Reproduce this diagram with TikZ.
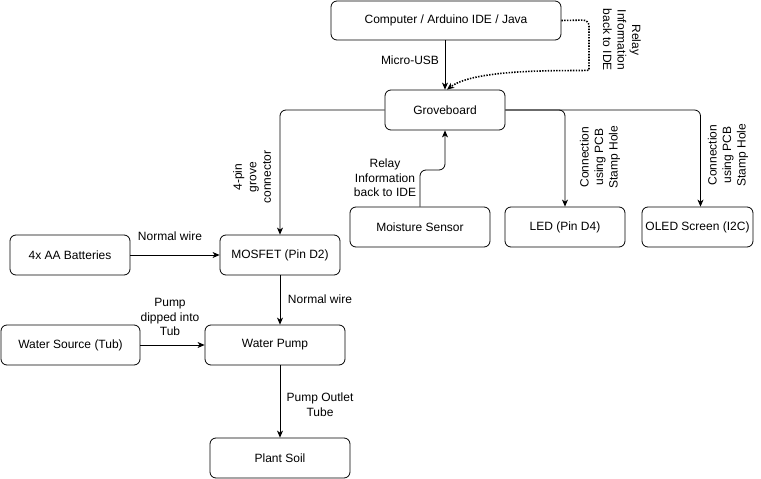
\documentclass[tikz,border=0pt]{standalone}
\usepackage{fontspec}
\setmainfont{Liberation Sans}
\usetikzlibrary{arrows.meta}
\begin{document}
\begin{tikzpicture}[x=1pt,y=-1pt,
  box/.style={draw,rounded corners=6pt,line width=0.8pt,inner sep=0pt,
    font=\fontsize{12}{14}\selectfont},
  lbl/.style={align=center,inner sep=0pt,font=\fontsize{12}{14.5}\selectfont},
  arr/.style={line width=0.8pt,rounded corners=6pt,
    -{Stealth[length=7pt,width=6pt,inset=2pt]}},
  dotline/.style={line width=1.6pt,dash pattern=on 1.4pt off 1.4pt,rounded corners=6pt,
    -{Stealth[length=7pt,width=6pt,inset=2pt]}}]
\useasboundingbox (0,0) rectangle (761,479);
% nodes
\node[box,minimum width=230pt,minimum height=39pt] (comp) at (446,20.5) {Computer / Arduino IDE / Java};
\node[box,minimum width=120pt,minimum height=40pt] (grove) at (445,110) {Groveboard};
\node[box,minimum width=140pt,minimum height=40pt] (moist) at (420,227) {Moisture Sensor};
\node[box,minimum width=120pt,minimum height=40pt] (led) at (565,227) {LED (Pin D4)};
\node[box,minimum width=111pt,minimum height=40pt] (oled) at (697.5,227) {OLED Screen (I2C)};
\node[box,minimum width=120pt,minimum height=40pt] (mosfet) at (280,255) {MOSFET (Pin D2)};
\node[box,minimum width=120pt,minimum height=40pt] (batt) at (70,255) {4x AA Batteries};
\node[box,minimum width=140pt,minimum height=40pt] (pump) at (275,345) {Water Pump};
\node[box,minimum width=139pt,minimum height=40pt] (source) at (70.5,345) {Water Source (Tub)};
\node[box,minimum width=140pt,minimum height=40pt] (soil) at (280,458) {Plant Soil};
% edges
\draw[arr] (grove.north |- comp.south) -- (grove.north);
\node[lbl] (lusb) at (410,60) {Micro-USB};
\draw[dotline] (comp.east) -- (589,20) -- (589,64)
  .. controls (589,72) and (478,66) .. ([xshift=2pt]grove.north);
\node[lbl,rotate=-90] (lrelay1) at (622,40) {Relay\\Information\\back to IDE};
\draw[arr] (grove.west) -| (mosfet.north);
\node[lbl,rotate=90] (lpin) at (252,177) {4-pin\\grove\\connector};
\draw[arr] (moist.north) -- (420,170) -| (grove.south);
\node[lbl] (lrelay2) at (385,178) {Relay\\Information\\back to IDE};
\draw[arr] (grove.east) -| (led.north);
\node[lbl,rotate=90] (lled) at (600,157) {Connection\\using PCB\\Stamp Hole};
\draw[arr] (grove.east) -| ([xshift=3pt]oled.north);
\node[lbl,rotate=90] (loled) at (728,155) {Connection\\using PCB\\Stamp Hole};
\draw[arr] (batt.east) -- (mosfet.west);
\node[lbl] (lwire1) at (170,236) {Normal wire};
\draw[arr] (mosfet.south) -- (mosfet.south |- pump.north);
\node[lbl] (lwire2) at (320,299) {Normal wire};
\draw[arr] (source.east) -- (pump.west);
\node[lbl] (ldip) at (170,317) {Pump\\dipped into\\Tub};
\draw[arr] (soil.north |- pump.south) -- (soil.north);
\node[lbl] (lout) at (320,404.5) {Pump Outlet\\Tube};
\end{tikzpicture}
\end{document}
